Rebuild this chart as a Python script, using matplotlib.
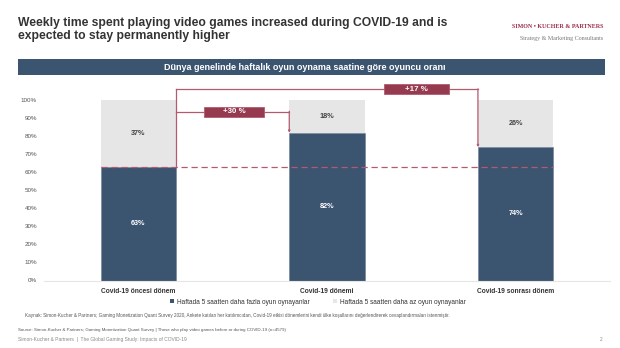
import matplotlib
matplotlib.use("Agg")
import matplotlib.pyplot as plt
import numpy as np
from matplotlib.patches import Rectangle, Patch

plt.rcParams['font.family'] = ['Liberation Sans', 'DejaVu Sans']

# data
periods = ['Covid-19 öncesi dönem', 'Covid-19 dönemi', 'Covid-19 sonrası dönem']
more_5h = [63, 82, 74]
less_5h = [37, 18, 26]
growth_labels = ['+30 %', '+17 %']
series_names = ['Haftada 5 saatten daha fazla oyun oynayanlar',
                'Haftada 5 saatten daha az oyun oynayanlar']
y_ticks = [0, 10, 20, 30, 40, 50, 60, 70, 80, 90, 100]

dark = '#3b5470'
light = '#e6e6e6'
red = '#963a50'
red_line = '#b35a6e'

W, H = 620, 348
fig = plt.figure(figsize=(6.2, 3.48), dpi=100)


def fx(x):
    return x / W


def fy(y):
    return 1 - y / H


# title + logo
fig.text(fx(18), fy(22.7), 'Weekly time spent playing video games increased during COVID-19 and is',
         fontsize=8.7, fontweight='bold', color='#333333', va='center', ha='left')
fig.text(fx(18), fy(35.9), 'expected to stay permanently higher',
         fontsize=8.7, fontweight='bold', color='#333333', va='center', ha='left')
fig.text(fx(603), fy(26), 'SIMON \u2022 KUCHER & PARTNERS', fontsize=4.3, fontweight='bold',
         family='Liberation Serif', color='#9b2c47', ha='right', va='center')
fig.text(fx(603), fy(38.5), 'Strategy & Marketing Consultants', fontsize=4.3,
         family='Liberation Serif', color='#777777', ha='right', va='center')

# banner
fig.patches.append(Rectangle((fx(18), fy(74.5)), fx(605) - fx(18), fy(59.3) - fy(74.5),
                             transform=fig.transFigure, facecolor=dark, edgecolor='none'))
fig.text(fx(305), fy(67.2), 'Dünya genelinde haftalık oyun oynama saatine göre oyuncu oranı',
         fontsize=6.5, fontweight='bold', color='white', ha='center', va='center')

# main axes: 0% at y=280.5 px, 10% = 18.02 px, top = 110%
ax_bottom = fy(280.5)
ax_top = fy(280.5 - 18.02 * 11)
ax = fig.add_axes([fx(44), ax_bottom, fx(610) - fx(44), ax_top - ax_bottom])

x = np.arange(len(periods))
bw = 0.4
ax.bar(x, more_5h, bw, color=dark, edgecolor='#6f8199', linewidth=0.4, zorder=2)
ax.bar(x, less_5h, bw, bottom=more_5h, color=light, edgecolor='none', zorder=2)

for i in range(len(periods)):
    ax.text(x[i], more_5h[i] / 2, f'{more_5h[i]}%', ha='center', va='center',
            fontsize=5.2, fontweight='bold', color='white', zorder=3)
    ax.text(x[i], more_5h[i] + less_5h[i] / 2, f'{less_5h[i]}%', ha='center', va='center',
            fontsize=5.2, fontweight='bold', color='#444444', zorder=3)

# baseline dashed line at pre-covid level
base = more_5h[0]
ax.plot([x[0] - bw / 2, x[2] + bw / 2], [base, base], color=red_line, lw=0.9,
        dashes=(5, 3), zorder=4)

# brackets from pre-covid level to the later periods
lvl_a = 93.7
lvl_b = 106.1
xl = x[0] + bw / 2
ax.plot([xl, xl], [base, lvl_b], color=red_line, lw=0.9, zorder=4)
ax.plot([xl, x[1] - bw / 2], [lvl_a, lvl_a], color=red_line, lw=0.9, zorder=4)
ax.annotate('', xy=(x[1] - bw / 2, more_5h[1]), xytext=(x[1] - bw / 2, lvl_a + 0.25),
            arrowprops=dict(arrowstyle='-|>', color=red_line, lw=0.9, mutation_scale=2.5,
                            shrinkA=0, shrinkB=0), zorder=4)
ax.plot([xl, x[2] - bw / 2], [lvl_b, lvl_b], color=red_line, lw=0.9, zorder=4,
        clip_on=False)
ax.annotate('', xy=(x[2] - bw / 2, more_5h[2]), xytext=(x[2] - bw / 2, lvl_b + 0.25),
            arrowprops=dict(arrowstyle='-|>', color=red_line, lw=0.9, mutation_scale=2.5,
                            shrinkA=0, shrinkB=0), zorder=4)

# growth label boxes
for cx, cy, w, lab in [(0.509, lvl_a, 0.318, growth_labels[0]),
                       (1.475, lvl_b, 0.343, growth_labels[1])]:
    ax.add_patch(Rectangle((cx - w / 2, cy - 2.75), w, 5.5, facecolor=red,
                           edgecolor=red_line, lw=0.6, zorder=5, clip_on=False))
    ax.text(cx, cy, lab, ha='center', va='center', fontsize=5.7, fontweight='bold',
            color='white', zorder=6)

ax.set_xlim(-0.5, 2.5)
ax.set_ylim(0, 110)
ax.set_yticks(y_ticks)
ax.set_yticklabels([f'{t}%' for t in y_ticks], fontsize=4.5, color='#555555')
ax.set_xticks(x)
ax.set_xticklabels(periods, fontsize=4.8, fontweight='bold', color='#333333')
ax.tick_params(axis='both', length=0)
ax.tick_params(axis='y', pad=5)
ax.tick_params(axis='x', pad=5.5)
for s in ['top', 'right', 'left']:
    ax.spines[s].set_visible(False)
ax.spines['bottom'].set_color('#e6e6e6')
ax.spines['bottom'].set_linewidth(0.8)

# legend
handles = [Patch(facecolor=dark), Patch(facecolor=light)]
fig.legend(handles, series_names, loc='center', bbox_to_anchor=(fx(318), fy(302)),
           ncol=2, frameon=False, fontsize=4.7, handlelength=0.6, handleheight=0.6,
           handletextpad=0.5, columnspacing=3.5, labelcolor='#333333')

# notes
fig.text(fx(25), fy(316), 'Kaynak: Simon-Kucher & Partners; Gaming Monetization Quant Survey 2020, '
         'Ankete katılan her katılımcıdan, Covid-19 etkisi dönemlerini kendi ülke koşullarını '
         'değerlendirerek cevaplandırmaları istenmiştir.',
         fontsize=3.3, color='#555555', ha='left', va='center')
fig.text(fx(18), fy(330.5), 'Source: Simon-Kucher & Partners; Gaming Monetization Quant Survey | '
         'Those who play video games before or during COVID-19 (n=4579)',
         fontsize=3.2, color='#555555', ha='left', va='center')
fig.text(fx(18), fy(339.5), 'Simon-Kucher & Partners  |  The Global Gaming Study: Impacts of COVID-19',
         fontsize=3.5, color='#888888', ha='left', va='center')
fig.text(fx(603), fy(339.5), '2', fontsize=3.5, color='#888888', ha='right', va='center')

fig.savefig('out.png', dpi=100)
